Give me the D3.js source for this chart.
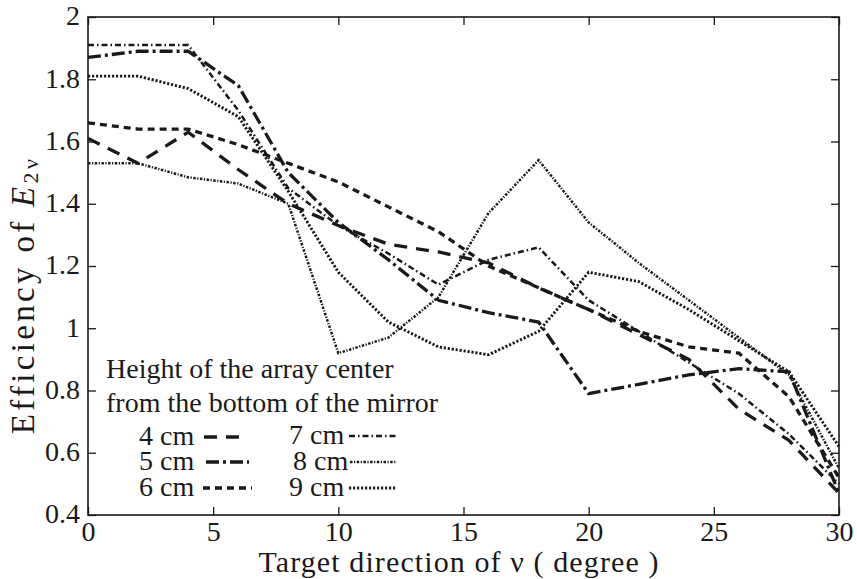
<!DOCTYPE html>
<html>
<head>
<meta charset="utf-8">
<script src="https://cdn.jsdelivr.net/npm/d3@7"></script>
<style>
  html, body { margin: 0; padding: 0; background: #fff; }
</style>
</head>
<body>
<svg id="chart" width="857" height="579"></svg>
<script>
// ---- data ----
const angles = [0, 2, 4, 6, 8, 10, 12, 14, 16, 18, 20, 22, 24, 26, 28, 30];
const h4cm = [1.61, 1.53, 1.63, 1.51, 1.40, 1.33, 1.27, 1.245, 1.21, 1.13, 1.06, 0.98, 0.90, 0.74, 0.64, 0.47];
const h5cm = [1.87, 1.89, 1.89, 1.78, 1.50, 1.34, 1.22, 1.09, 1.05, 1.02, 0.79, 0.82, 0.85, 0.87, 0.86, 0.47];
const h6cm = [1.66, 1.64, 1.64, 1.59, 1.53, 1.47, 1.39, 1.31, 1.20, 1.13, 1.06, 0.99, 0.94, 0.92, 0.78, 0.52];
const h7cm = [1.91, 1.91, 1.91, 1.70, 1.45, 1.33, 1.24, 1.14, 1.22, 1.26, 1.09, 0.99, 0.89, 0.79, 0.66, 0.50];
const h8cm = [1.53, 1.53, 1.485, 1.465, 1.40, 0.92, 0.97, 1.10, 1.37, 1.54, 1.34, 1.21, 1.09, 0.97, 0.85, 0.55];
const h9cm = [1.81, 1.81, 1.77, 1.68, 1.44, 1.18, 1.02, 0.94, 0.915, 0.99, 1.18, 1.15, 1.06, 0.96, 0.86, 0.62];
const seriesNames = ["4 cm", "5 cm", "6 cm", "7 cm", "8 cm", "9 cm"];
const xTicks = [0, 5, 10, 15, 20, 25, 30];
const yTicks = [0.4, 0.6, 0.8, 1, 1.2, 1.4, 1.6, 1.8, 2];
const yTickLabels = ["0.4", "0.6", "0.8", "1", "1.2", "1.4", "1.6", "1.8", "2"];
const legendTitle = ["Height of the array center", "from the bottom of the mirror"];
const xTitle = "Target direction of \u03bd ( degree )";

// ---- styles ----
const FONT = "'Liberation Serif'";
const ink = "#1a1a1a";
const styles = [
  { dash: "13,9", width: 3.3 },
  { dash: "13,4,3,4", width: 3.3 },
  { dash: "7,5", width: 3.3 },
  { dash: "6,3,1.5,3", width: 2.5 },
  { dash: "2.5,1.5,1.2,1.5", width: 2.5 },
  { dash: "2.2,1.8", width: 2.9 }
];
const seriesData = [h4cm, h5cm, h6cm, h7cm, h8cm, h9cm];

const svg = d3.select("#chart");
const L = 88, R = 839, T = 17, B = 515;
const x = d3.scaleLinear().domain([0, 30]).range([L, R]);
const y = d3.scaleLinear().domain([0.4, 2]).range([B, T]);

// series lines
const line = d3.line().x((d, i) => x(angles[i])).y(d => y(d));
seriesData.forEach((s, k) => {
  svg.append("path")
    .datum(s)
    .attr("d", line)
    .attr("fill", "none")
    .attr("stroke", ink)
    .attr("stroke-width", styles[k].width)
    .attr("stroke-dasharray", styles[k].dash)
    .attr("stroke-linejoin", "miter");
});

// axes (inward ticks on all four sides)
const tickLen = 8;
const gB = svg.append("g").attr("transform", `translate(0,${B})`)
  .call(d3.axisBottom(x).tickValues(xTicks).tickSizeInner(-tickLen).tickSizeOuter(0).tickPadding(9).tickFormat(d3.format("d")));
const gT = svg.append("g").attr("transform", `translate(0,${T})`)
  .call(d3.axisTop(x).tickValues(xTicks).tickSizeInner(-tickLen).tickSizeOuter(0).tickFormat(""));
const gL = svg.append("g").attr("transform", `translate(${L},0)`)
  .call(d3.axisLeft(y).tickValues(yTicks).tickSizeInner(-tickLen).tickSizeOuter(0).tickPadding(8).tickFormat((d, i) => yTickLabels[i]));
const gR = svg.append("g").attr("transform", `translate(${R},0)`)
  .call(d3.axisRight(y).tickValues(yTicks).tickSizeInner(-tickLen).tickSizeOuter(0).tickFormat(""));
[gB, gT, gL, gR].forEach(g => {
  g.attr("font-family", FONT).attr("font-size", 28);
  g.select(".domain").remove();
  g.selectAll("line").attr("stroke", ink).attr("stroke-width", 1.3);
  g.selectAll("text").attr("fill", ink);
});
gB.selectAll("text").attr("dy", "0.62em");
gL.selectAll("text").attr("dy", "0.28em");

// frame
svg.append("rect").attr("x", L).attr("y", T).attr("width", R - L).attr("height", B - T)
  .attr("fill", "none").attr("stroke", ink).attr("stroke-width", 1.6);

// helper: spread a text to a target length
function spread(sel, target) {
  const n = sel.text().length;
  const len = sel.node().getComputedTextLength();
  if (len < target && n > 1) sel.attr("letter-spacing", (target - len) / (n - 1));
}

// axis titles
const xt = svg.append("text").attr("x", 459).attr("y", 572).attr("text-anchor", "middle")
  .attr("font-family", FONT).attr("font-size", 30).attr("fill", ink).text(xTitle);
spread(xt, 400);

const yt = svg.append("text").attr("transform", "translate(34,295) rotate(-90)").attr("text-anchor", "middle")
  .attr("font-family", FONT).attr("font-size", 33).attr("fill", ink);
yt.append("tspan").text("Efficiency of ");
yt.append("tspan").attr("font-style", "italic").text("E");
yt.append("tspan").attr("dy", 4).attr("font-size", 22).text("2\u03bd");
spread(yt, 275);

// legend
svg.selectAll(".lgtitle").data(legendTitle).enter().append("text")
  .attr("x", 106).attr("y", (d, i) => 378 + i * 34)
  .attr("font-family", FONT).attr("font-size", 28).attr("fill", ink).text(d => d);

const legPos = [
  { tx: 139, ty: 445, lx0: 204, lx1: 248 },
  { tx: 139, ty: 470, lx0: 206, lx1: 249 },
  { tx: 139, ty: 496, lx0: 203, lx1: 252 },
  { tx: 289, ty: 444, lx0: 349, lx1: 397 },
  { tx: 293, ty: 470, lx0: 350, lx1: 397 },
  { tx: 289, ty: 496, lx0: 349, lx1: 397 }
];
seriesNames.forEach((n, k) => {
  const p = legPos[k];
  svg.append("text").attr("x", p.tx).attr("y", p.ty)
    .attr("font-family", FONT).attr("font-size", 28).attr("fill", ink).text(n);
  svg.append("line").attr("x1", p.lx0).attr("x2", p.lx1).attr("y1", p.ty - 8).attr("y2", p.ty - 8)
    .attr("stroke", ink).attr("stroke-width", styles[k].width).attr("stroke-dasharray", styles[k].dash);
});
</script>
</body>
</html>
